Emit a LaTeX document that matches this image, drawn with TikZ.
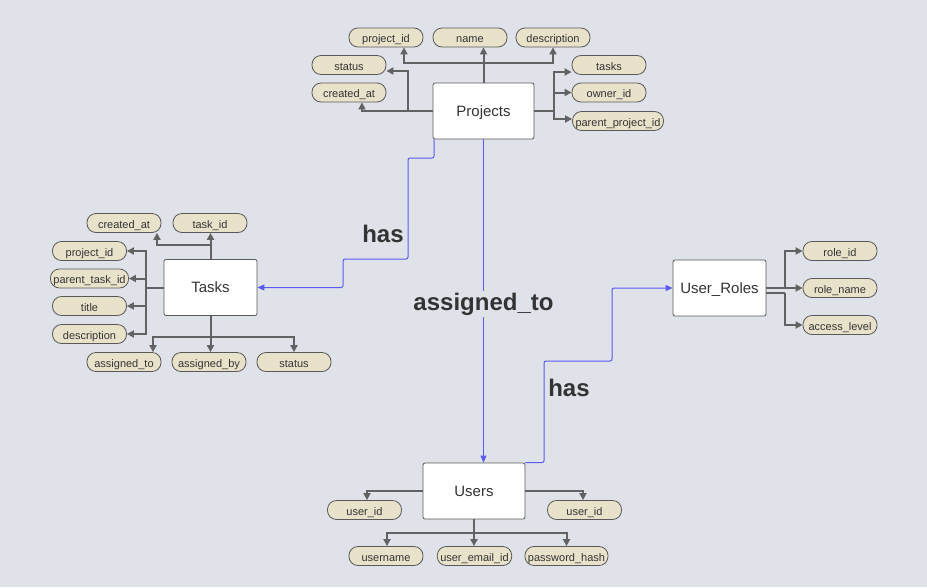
\documentclass[tikz,border=0pt]{standalone}
\usepackage{fontspec}
\setmainfont{Liberation Sans}
\usetikzlibrary{arrows.meta,calc}
\definecolor{bg}{HTML}{DFE2E8}
\definecolor{pillfill}{HTML}{E9E2CB}
\definecolor{edgegray}{HTML}{626262}
\definecolor{txt}{HTML}{333333}
\definecolor{relblue}{HTML}{5A5AF5}
\tikzset{
  entity/.style={draw=black!65, fill=white, line width=0.8pt, rounded corners=2pt,
    minimum width=#1, minimum height=56pt, inner sep=0pt, text height=10pt, text depth=0pt,
    font=\fontsize{15}{18}\selectfont, text=txt},
  entity/.default=93pt,
  pill/.style={draw=black!65, fill=pillfill, line width=0.8pt, rounded corners=9pt,
    minimum width=74pt, minimum height=19pt, inner xsep=3pt, inner ysep=0pt,
    text height=10pt, text depth=0pt,
    font=\fontsize{11}{13}\selectfont, text=txt},
  attredge/.style={draw=edgegray, line width=2pt, -{Triangle[length=7pt,width=7pt]}},
  attrline/.style={draw=edgegray, line width=2pt},
  rel/.style={draw=relblue, line width=1pt, rounded corners=2pt, -{Triangle[length=7pt,width=6pt]}},
  rellabel/.style={font=\bfseries\fontsize{24}{28}\selectfont, text=txt, inner sep=1.5pt},
}
\begin{document}
\begin{tikzpicture}[x=1pt,y=-1pt]
\useasboundingbox (0,0) rectangle (927,587);
\fill[bg] (0,0) rectangle (927,587);

% ---------- Projects ----------
\node[entity=101pt] (P) at (483.5,111) {Projects};
\node[pill] (pid) at (386,37.5) {project\_id};
\node[pill] (pname) at (470,37.5) {name};
\node[pill] (pdesc) at (553,37.5) {description};
\node[pill] (pstatus) at (349,65) {status};
\node[pill] (pcreated) at (349,92.5) {created\_at};
\node[pill] (ptasks) at (609,65) {tasks};
\node[pill] (powner) at (609,92.5) {owner\_id};
\node[pill] (pparent) at (618,121) {parent\_project\_id};

\coordinate (pj) at (483.5,63);
\coordinate (pl) at (408,111);
\coordinate (pr) at (554,111);
\draw[attredge] (P.north) -- (P.north |- pname.south);
\draw[attredge] (pj) -| ([xshift=18pt]pid.south);
\draw[attredge] (pj) -| (pdesc.south);
\draw[attredge] (P.west) -| ([xshift=13pt]pcreated.south);
\draw[attredge] (pl) |- ([yshift=-6pt]pstatus.east);
\draw[attrline] (P.east) -- (pr);
\draw[attredge] (pr) |- ([yshift=-7pt]ptasks.west);
\draw[attredge] (pr) |- (powner.west);
\draw[attredge] (pr) |- ([yshift=2pt]pparent.west);

% ---------- Tasks ----------
\node[entity] (T) at (210.5,287.5) {Tasks};
\node[pill] (tcreated) at (124,223) {created\_at};
\node[pill] (ttaskid) at (210,223) {task\_id};
\node[pill] (tproj) at (89.5,251) {project\_id};
\node[pill] (tparent) at (89.5,278.5) {parent\_task\_id};
\node[pill] (ttitle) at (89.5,306) {title};
\node[pill] (tdesc) at (89.5,334) {description};
\node[pill] (tto) at (124,362) {assigned\_to};
\node[pill] (tby) at (209,362) {assigned\_by};
\node[pill] (tstatus) at (294,362) {status};

\coordinate (tj) at (210.5,245);
\coordinate (tl) at (146,287.5);
\coordinate (tb) at (210.5,337);
\draw[attredge] (T.north) -- (T.north |- ttaskid.south);
\draw[attredge] (tj) -| ([xshift=33pt]tcreated.south);
\draw[attrline] (T.west) -- (tl);
\draw[attredge] (tl) |- (tproj.east);
\draw[attredge] (tl) |- (tparent.east);
\draw[attredge] (tl) |- (ttitle.east);
\draw[attredge] (tl) |- (tdesc.east);
\draw[attredge] (T.south) -- (T.south |- tby.north);
\draw[attredge] (tb) -| ([xshift=29pt]tto.north);
\draw[attredge] (tb) -| (tstatus.north);

% ---------- User_Roles ----------
\node[entity] (U) at (719.5,288) {User\_Roles};
\node[pill] (urid) at (840,251) {role\_id};
\node[pill] (urname) at (840,288) {role\_name};
\node[pill] (uracc) at (840,325) {access\_level};

\coordinate (ur) at (785,288);
\coordinate (ur2) at (785,293);
\draw[attrline] (U.east) -- (ur);
\draw[attredge] (ur) |- (urid.west);
\draw[attredge] (ur) -- (urname.west);
\draw[attrline] ([yshift=-5pt]U.east) -- (ur2);
\draw[attredge] (ur2) |- (uracc.west);

% ---------- Users ----------
\node[entity=102pt] (S) at (474,491) {Users};
\node[pill] (suid1) at (364.5,510) {user\_id};
\node[pill] (suid2) at (584.5,510) {user\_id};
\node[pill] (suser) at (386,556) {username};
\node[pill] (semail) at (474.5,556) {user\_email\_id};
\node[pill, minimum width=83pt] (spass) at (566.5,556) {password\_hash};

\coordinate (sb) at (474,533);
\draw[attredge] (S.west) -| ([xshift=2.5pt]suid1.north);
\draw[attredge] (S.east) -| ([xshift=-1.5pt]suid2.north);
\draw[attredge] (S.south) -- (S.south |- semail.north);
\draw[attredge] (sb) -| ([xshift=1pt]suser.north);
\draw[attredge] (sb) -| (spass.north);

% ---------- Relationships ----------
\draw[rel] ([xshift=-49.5pt]P.south) |- (408,158) |- (343,259) |- (T.east);
\node[rellabel] (has1) at (383,234) {has};

\draw[rel] (P.south) -- node[rellabel, fill=bg, inner ysep=2pt, yshift=-3pt] (lassigned) {assigned\_to} (P.south |- S.north);

\draw[rel] (S.north east) -| (544,361) -| (612,288) -- (U.west);
\node[rellabel] (has2) at (569,388) {has};
\end{tikzpicture}
\end{document}
